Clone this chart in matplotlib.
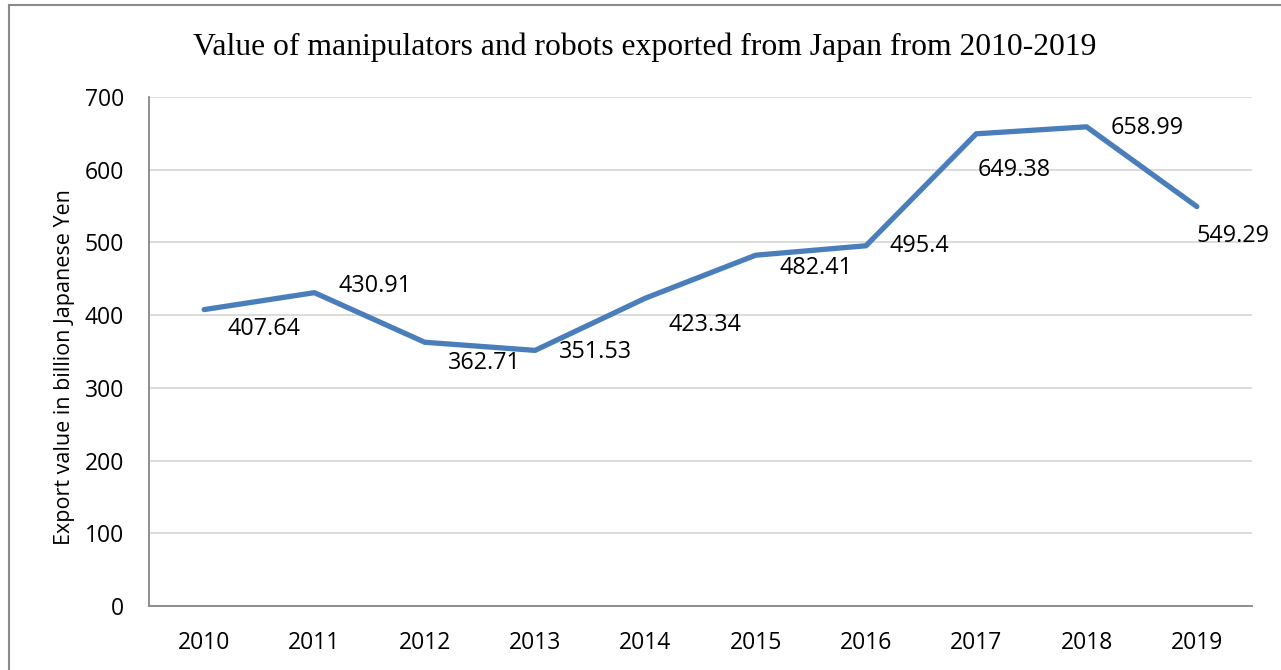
import numpy as np
import matplotlib.pyplot as plt
from matplotlib.patches import Rectangle

years = ['2010', '2011', '2012', '2013', '2014', '2015', '2016', '2017', '2018', '2019']
values = [407.64, 430.91, 362.71, 351.53, 423.34, 482.41, 495.4, 649.38, 658.99, 549.29]
labels = ['407.64', '430.91', '362.71', '351.53', '423.34', '482.41', '495.4', '649.38', '658.99', '549.29']

# label offsets in points (dx, dy), left aligned like the Excel data labels
offs = [(17, -14), (17, 5), (17, -15), (17, -1), (17, -19), (17, -9), (17, 0), (1, -26), (17, -1), (0, -21)]

fig = plt.figure(figsize=(12.81, 6.70), dpi=100)
ax = fig.add_axes([149/1281, 1 - 606/670, (1252-149)/1281, (606-97)/670])

x = np.arange(len(years))
ax.plot(x, values, color='#4a7ebb', lw=3.8, solid_capstyle='round', solid_joinstyle='round', zorder=3)

for xi, v, lab, (dx, dy) in zip(x, values, labels, offs):
    ax.annotate(lab, (xi, v), xytext=(dx, dy), textcoords='offset points',
                ha='left', va='center', fontsize=16.8, family='Open Sans', color='black')

ax.set_xlim(-0.5, 9.5)
ax.set_ylim(0, 700)
ax.set_yticks(np.arange(0, 701, 100))
ax.set_xticks(x)
ax.set_xticklabels(years)
ax.grid(axis='y', color='#d9d9d9', lw=1.3)
ax.set_axisbelow(True)
for s in ['top', 'right']:
    ax.spines[s].set_visible(False)
for s in ['left', 'bottom']:
    ax.spines[s].set_color('#868686')
    ax.spines[s].set_linewidth(1.3)
ax.tick_params(length=0, labelsize=16.5, pad=18)
ax.tick_params(axis='y', pad=18)
for t in ax.get_xticklabels() + ax.get_yticklabels():
    t.set_family('Open Sans')

ax.set_ylabel('Export value in billion Japanese Yen', fontsize=15.5, family='Open Sans')
ax.yaxis.set_label_coords(-0.067, 0.47)
fig.text(0.503, 1 - 47/670, 'Value of manipulators and robots exported from Japan from 2010-2019',
         ha='center', va='center', fontsize=22.8, family='Liberation Serif')

fig.patches.append(Rectangle((9/1281, -0.1), 1.2, 1 - 5/670 + 0.1, transform=fig.transFigure,
                             fill=False, edgecolor='#8a8a8a', lw=1.5))

fig.savefig('out.png', dpi=100)
